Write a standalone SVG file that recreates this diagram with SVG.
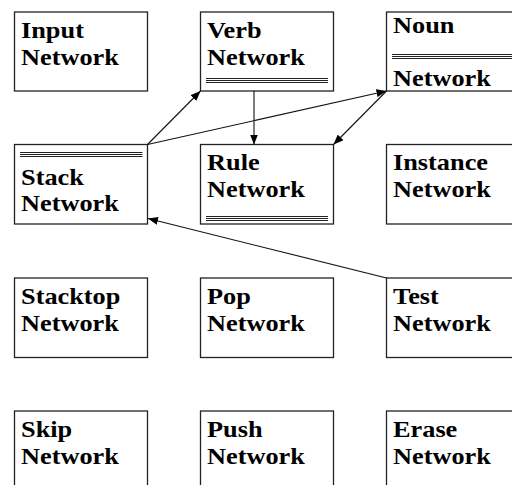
<svg xmlns="http://www.w3.org/2000/svg" width="512" height="485" viewBox="0 0 512 485">
<style>
.box{fill:#fff;stroke:#222;stroke-width:1.3}
text{font-family:'Liberation Serif','Times New Roman',Times,serif;font-weight:700;font-size:23.5px;fill:#000}
.dl{stroke:#222;stroke-width:1}
.c{stroke:#111;stroke-width:1.1;fill:none}
</style>
<defs>
<marker id="ah" viewBox="0 0 10 8" refX="10" refY="4" markerWidth="10" markerHeight="8" markerUnits="userSpaceOnUse" orient="auto">
<path d="M0,0 L10,4 L0,8 Z" fill="#000"/>
</marker>
</defs>
<rect width="512" height="485" fill="#fff"/>
<g id="input"><rect class="box" x="14.5" y="12" width="133" height="79"/>
<text transform="translate(21,37.7) scale(1.12,1)">Input</text>
<text transform="translate(21,64.7) scale(1.12,1)">Network</text></g>
<g id="verb"><rect class="box" x="200.5" y="12" width="133" height="79"/>
<text transform="translate(207,37.7) scale(1.12,1)">Verb</text>
<text transform="translate(207,64.7) scale(1.12,1)">Network</text>
<path class="dl" d="M206,78.5H328M206,80.5H328M206,82.5H328"/></g>
<g id="noun"><rect class="box" x="386.5" y="12" width="133" height="79"/>
<text transform="translate(393,33.3) scale(1.12,1)">Noun</text>
<text transform="translate(393,86) scale(1.12,1)">Network</text>
<path class="dl" d="M392,54.5H514M392,56.5H514M392,58.5H514"/></g>
<g id="stack"><rect class="box" x="14.5" y="144.5" width="133" height="79.5"/>
<path class="dl" d="M20,152.5H142.5M20,154.5H142.5M20,156.5H142.5"/>
<text transform="translate(21,185) scale(1.12,1)">Stack</text>
<text transform="translate(21,211) scale(1.12,1)">Network</text></g>
<g id="rule"><rect class="box" x="200.5" y="144.5" width="133" height="79.5"/>
<text transform="translate(207,170.2) scale(1.12,1)">Rule</text>
<text transform="translate(207,197.2) scale(1.12,1)">Network</text>
<path class="dl" d="M206,216.5H328M206,218.5H328M206,220.5H328"/></g>
<g id="instance"><rect class="box" x="386.5" y="144.5" width="133" height="79.5"/>
<text transform="translate(393,170.2) scale(1.12,1)">Instance</text>
<text transform="translate(393,197.2) scale(1.12,1)">Network</text></g>
<g id="stacktop"><rect class="box" x="14.5" y="278" width="133" height="79.5"/>
<text transform="translate(21,303.7) scale(1.12,1)">Stacktop</text>
<text transform="translate(21,330.7) scale(1.12,1)">Network</text></g>
<g id="pop"><rect class="box" x="200.5" y="278" width="133" height="79.5"/>
<text transform="translate(207,303.7) scale(1.12,1)">Pop</text>
<text transform="translate(207,330.7) scale(1.12,1)">Network</text></g>
<g id="test"><rect class="box" x="386.5" y="278" width="133" height="79.5"/>
<text transform="translate(393,303.7) scale(1.12,1)">Test</text>
<text transform="translate(393,330.7) scale(1.12,1)">Network</text></g>
<g id="skip"><rect class="box" x="14.5" y="411" width="133" height="80"/>
<text transform="translate(21,436.7) scale(1.12,1)">Skip</text>
<text transform="translate(21,463.7) scale(1.12,1)">Network</text></g>
<g id="push"><rect class="box" x="200.5" y="411" width="133" height="80"/>
<text transform="translate(207,436.7) scale(1.12,1)">Push</text>
<text transform="translate(207,463.7) scale(1.12,1)">Network</text></g>
<g id="erase"><rect class="box" x="386.5" y="411" width="133" height="80"/>
<text transform="translate(393,436.7) scale(1.12,1)">Erase</text>
<text transform="translate(393,463.7) scale(1.12,1)">Network</text></g>
<g id="connectors">
<line class="c" x1="147.5" y1="144.5" x2="200.5" y2="91" marker-end="url(#ah)"/>
<line class="c" x1="147.5" y1="144.5" x2="386.5" y2="91" marker-end="url(#ah)"/>
<line class="c" x1="254" y1="91" x2="254" y2="144.5" marker-end="url(#ah)"/>
<line class="c" x1="386.5" y1="91" x2="333.5" y2="144.5" marker-end="url(#ah)"/>
<line class="c" x1="386.5" y1="278" x2="148" y2="218.5" marker-end="url(#ah)"/>
</g>
</svg>
